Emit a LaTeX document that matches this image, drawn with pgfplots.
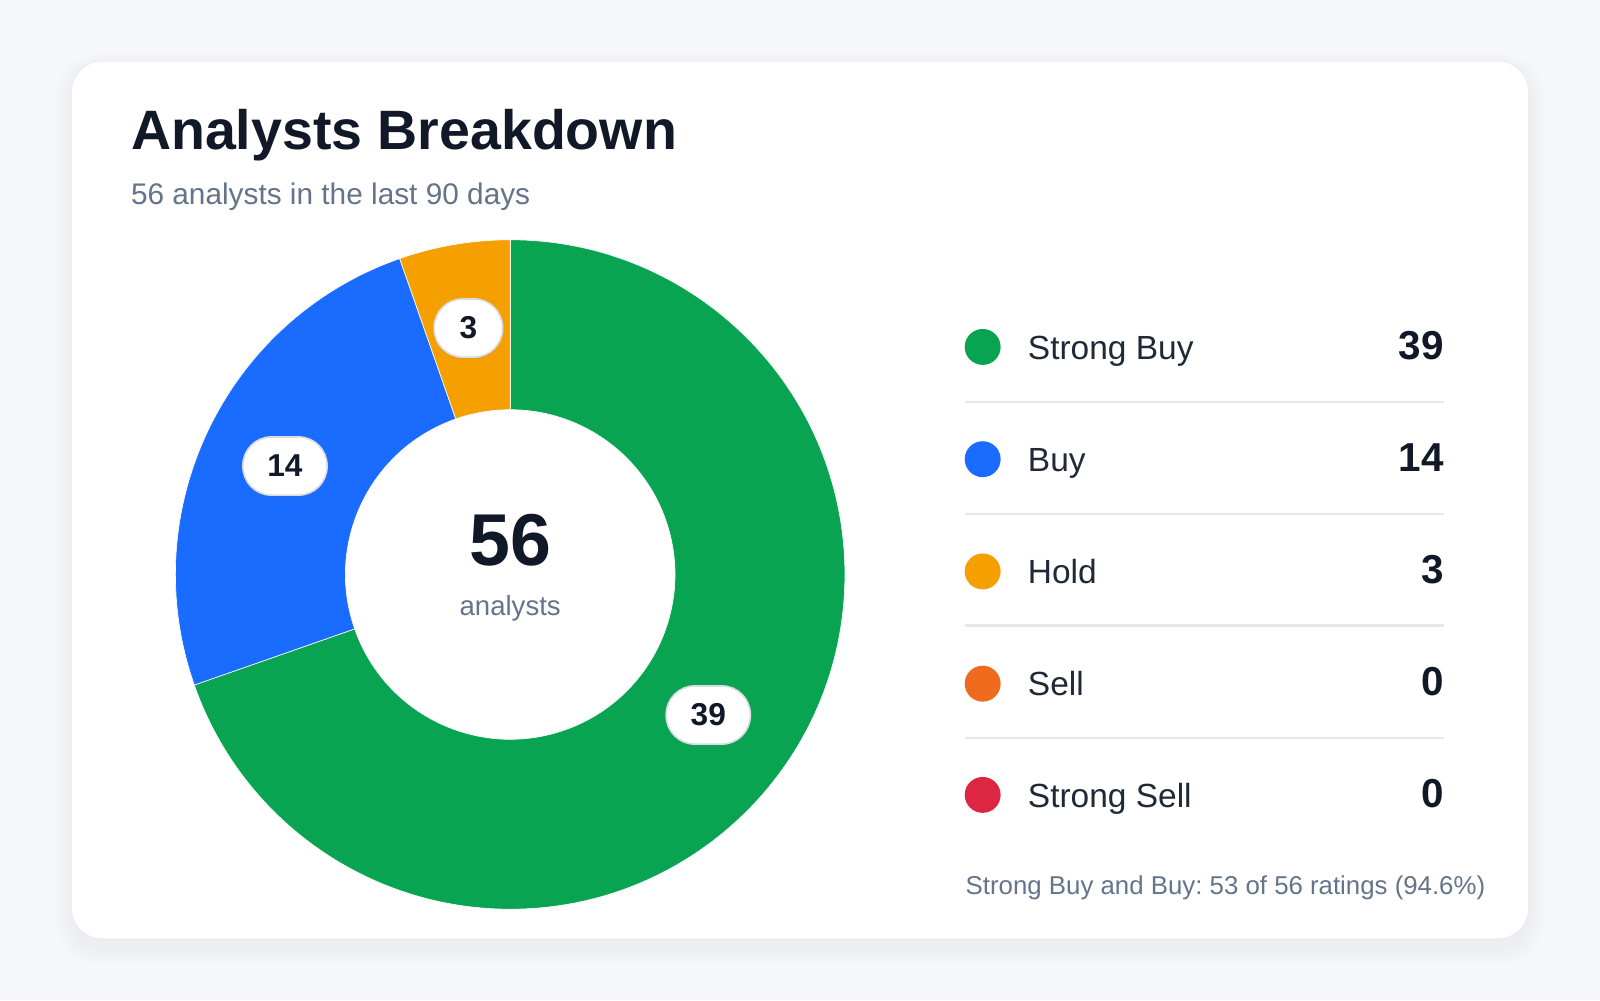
\documentclass[border=0pt]{standalone}
\usepackage{pgfplots}
\pgfplotsset{compat=1.18}
\usepackage{pgfplotstable}
\usepackage{fontspec}
\setmainfont{Liberation Sans}
\usetikzlibrary{shadows}
\frenchspacing
\definecolor{bg}{HTML}{F5F7FB}
\definecolor{sbuy}{HTML}{08A452}
\definecolor{buy}{HTML}{1A6BFF}
\definecolor{hold}{HTML}{F5A000}
\definecolor{sell}{HTML}{F06A1E}
\definecolor{ssell}{HTML}{DD2641}
\definecolor{ink}{HTML}{111827}
\definecolor{txt}{HTML}{1F2937}
\definecolor{mut}{HTML}{64748B}
\definecolor{sep}{HTML}{E5E7EB}
\definecolor{pillb}{HTML}{D9DCE1}

\pgfplotstableread[col sep=comma]{
rating,count
Strong Buy,39
Buy,14
Hold,3
Sell,0
Strong Sell,0
}\ratings
\pgfplotstablegetelem{0}{count}\of\ratings \let\vA\pgfplotsretval
\pgfplotstablegetelem{1}{count}\of\ratings \let\vB\pgfplotsretval
\pgfplotstablegetelem{2}{count}\of\ratings \let\vC\pgfplotsretval
\pgfplotstablegetelem{3}{count}\of\ratings \let\vD\pgfplotsretval
\pgfplotstablegetelem{4}{count}\of\ratings \let\vE\pgfplotsretval
\pgfmathsetmacro\tot{\vA+\vB+\vC+\vD+\vE}
\pgfmathtruncatemacro\totI{\tot}
\pgfmathtruncatemacro\sbb{\vA+\vB}
\pgfmathsetmacro\pct{100*(\vA+\vB)/\tot}
\pgfmathsetmacro\aA{90}
\pgfmathsetmacro\aB{\aA-360*\vA/\tot}
\pgfmathsetmacro\aC{\aB-360*\vB/\tot}
\pgfmathsetmacro\aD{\aC-360*\vC/\tot}
\pgfmathsetmacro\mA{(\aA+\aB)/2}
\pgfmathsetmacro\mB{(\aB+\aC)/2}
\pgfmathsetmacro\mC{(\aC+\aD)/2}

\def\Ro{164pt}
\def\Ri{80.75pt}
\newcommand\donutslice[3]{% color, start, end
  \fill[#1, draw=white, line width=0.3pt]
    ([shift={(#2:\Ro)}]axis cs:0,0) arc[start angle=#2, end angle=#3, radius=\Ro]
    -- ([shift={(#3:\Ri)}]axis cs:0,0) arc[start angle=#3, end angle=#2, radius=\Ri] -- cycle;}
\tikzset{pill/.style={fill=white, draw=pillb, line width=0.8pt, rounded corners=14pt,
  minimum height=28.5pt, minimum width=33.5pt, inner xsep=12pt, inner ysep=0pt,
  text=ink, font=\fontsize{15.5}{18}\selectfont\bfseries,
  drop shadow={opacity=0.12, shadow xshift=0pt, shadow yshift=-1.2pt}}}

\begin{document}
\begin{tikzpicture}[x=0.5pt,y=0.5pt]
\useasboundingbox (0,0) rectangle (1568,980);
\fill[bg] (0,0) rectangle (1568,980);
% card shadow
\foreach \i in {1,...,9}{
  \pgfmathsetmacro\rr{15+\i}
  \fill[black, opacity=0.005, rounded corners=\rr pt] (70-2*\i,60-2*\i-8) rectangle (1498+2*\i,920+2*\i-8);
}
\fill[white, draw=black!7, line width=0.4pt, rounded corners=15pt] (70,60) rectangle (1498,920);

% titles
\node[anchor=base west, inner sep=0pt, text=ink, font=\fontsize{27.2}{32}\selectfont\bfseries] at (128,833) {Analysts Breakdown};
\node[anchor=base west, inner sep=0pt, text=mut, font=\fontsize{14.6}{18}\selectfont] at (128,780) {\totI{} analysts in the last 90 days};

% donut
\begin{axis}[at={(250pt,208.5pt)}, anchor=center, scale only axis, width=328pt, height=328pt,
  xmin=-1, xmax=1, ymin=-1, ymax=1, hide axis, clip=false]
\donutslice{sbuy}{\aA}{\aB}
\donutslice{buy}{\aB}{\aC}
\donutslice{hold}{\aC}{\aD}
\node[pill] at ([shift={(\mA:119pt)}]axis cs:0,0) {\vA};
\node[pill] at ([shift={(\mB:122.5pt)}]axis cs:0,0) {\vB};
\node[pill] at ([shift={(\mC:122.5pt)}]axis cs:0,0) {\vC};
\end{axis}

% center text
\node[anchor=base, inner sep=0pt, text=ink, font=\fontsize{36}{40}\selectfont\bfseries] at (500,426) {\totI};
\node[anchor=base, inner sep=0pt, text=mut, font=\fontsize{13.5}{16}\selectfont] at (500,377) {analysts};

% legend
\foreach \y/\c/\lab/\v in {640/sbuy/Strong Buy/\vA, 530/buy/Buy/\vB, 420/hold/Hold/\vC, 310/sell/Sell/\vD, 201/ssell/Strong Sell/\vE}{
  \fill[\c] (963,\y) circle (17.6);
  \node[anchor=base west, inner sep=0pt, text=txt, font=\fontsize{16.4}{20}\selectfont] at (1007,\y-12) {\lab};
  \node[anchor=base east, inner sep=0pt, text=ink, font=\fontsize{19.8}{24}\selectfont\bfseries] at (1415,\y-12) {\v};
}
\foreach \y in {586,476,367,257}{
  \draw[sep, line width=1pt] (946,\y) -- (1415,\y);
}
\node[anchor=base west, inner sep=0pt, text=mut, font=\fontsize{12.65}{15}\selectfont] at (946,103)
  {Strong Buy and Buy: \sbb{} of \totI{} ratings (\pgfmathprintnumber[fixed,precision=1,fixed zerofill,assume math mode=true]{\pct}\%)};
\end{tikzpicture}
\end{document}
